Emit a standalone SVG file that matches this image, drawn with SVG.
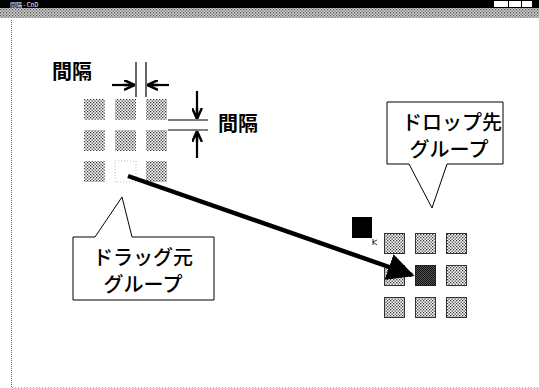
<svg xmlns="http://www.w3.org/2000/svg" width="539" height="388" viewBox="0 0 539 388">
<defs>
<pattern id="dots" width="3" height="3" patternUnits="userSpaceOnUse">
<rect width="3" height="3" fill="#fff"/>
<rect x="0" y="0" width="1.3" height="1.3" fill="#333"/>
<rect x="1.5" y="1.5" width="1.3" height="1.3" fill="#333"/>
</pattern>
<pattern id="dense" width="2" height="2" patternUnits="userSpaceOnUse">
<rect width="2" height="2" fill="#555"/>
<rect x="0" y="0" width="1" height="1" fill="#111"/>
<rect x="1" y="1" width="1" height="1" fill="#111"/>
</pattern>
<pattern id="menu" width="3" height="3" patternUnits="userSpaceOnUse">
<rect width="3" height="3" fill="#ccc"/>
<rect x="0" y="0" width="1.2" height="1.2" fill="#555"/>
<rect x="1.5" y="1.5" width="1.2" height="1.2" fill="#555"/>
</pattern>
<marker id="ah" viewBox="0 0 10 10" refX="10" refY="5" markerWidth="11" markerHeight="11" markerUnits="userSpaceOnUse" orient="auto">
<path d="M0,0.5 L10,5 L0,9.5 M10,5 L0,5" fill="none" stroke="#000" stroke-width="2.2"/>
</marker>
<marker id="big" viewBox="0 0 10 10" refX="9" refY="5" markerWidth="6" markerHeight="6" orient="auto">
<path d="M0,0 L10,5 L0,10 Z" fill="#000"/>
</marker>
</defs>
<style>
.lbl{font-family:"Noto Sans CJK JP","Noto Sans",sans-serif;font-size:20px;font-weight:500;fill:#000}
.b{font-weight:bold}
.src{fill:url(#dots)}
.dst{fill:url(#dots);stroke:#333;stroke-width:1}
.thin{stroke:#000;stroke-width:1.2;fill:none}
.arr{stroke:#000;stroke-width:2.2;fill:none;marker-end:url(#ah)}
.call{fill:#fff;stroke:#000;stroke-width:1}
</style>
<rect width="539" height="388" fill="#fff"/>
<g id="window">
<rect x="0" y="0" width="539" height="8" fill="#000"/>
<rect x="0" y="8" width="539" height="10" fill="url(#menu)"/>
<text x="10" y="6.5" font-family="Noto Sans CJK JP,sans-serif" font-size="6" fill="#fff">間隔 - CnD</text>
<rect x="494" y="1" width="14" height="6" fill="#fff"/>
<rect x="509" y="1" width="12" height="6" fill="#fff"/>
<rect x="522" y="1" width="10" height="6" fill="#fff"/>
<line x1="11.5" y1="20" x2="11.5" y2="387" stroke="#666" stroke-width="1" stroke-dasharray="1,1"/>
<line x1="12" y1="387.5" x2="539" y2="387.5" stroke="#aaa" stroke-width="1" stroke-dasharray="1,2"/>
</g>
<g id="source-group">
<rect class="src" x="84" y="99" width="21" height="21"/>
<rect class="src" x="115" y="99" width="21" height="21"/>
<rect class="src" x="146" y="99" width="21" height="21"/>
<rect class="src" x="84" y="130" width="21" height="21"/>
<rect class="src" x="115" y="130" width="21" height="21"/>
<rect class="src" x="146" y="130" width="21" height="21"/>
<rect class="src" x="84" y="161" width="21" height="21"/>
<rect x="115" y="161" width="21" height="21" fill="none" stroke="#aaa" stroke-width="0.8" stroke-dasharray="1,2"/>
<rect class="src" x="146" y="161" width="21" height="21"/>
</g>
<g id="gap-labels">
<text class="lbl b" x="52" y="79">間隔</text>
<text class="lbl b" x="218" y="131">間隔</text>
</g>
<g id="target-group">
<rect class="dst" x="384.5" y="233.5" width="20" height="20"/>
<rect class="dst" x="415.5" y="233.5" width="20" height="20"/>
<rect class="dst" x="446.5" y="233.5" width="20" height="20"/>
<rect class="dst" x="384.5" y="265.5" width="20" height="20"/>
<rect x="415.5" y="265.5" width="20" height="20" fill="url(#dense)" stroke="#222"/>
<rect class="dst" x="446.5" y="265.5" width="20" height="20"/>
<rect class="dst" x="384.5" y="297.5" width="20" height="20"/>
<rect class="dst" x="415.5" y="297.5" width="20" height="20"/>
<rect class="dst" x="446.5" y="297.5" width="20" height="20"/>
</g>
<g id="drag-image">
<rect x="352" y="217" width="20" height="21" fill="#000"/>
<path d="M373,239 L373,245 M373,242 L377,240 M373,242 L377,245" stroke="#000" stroke-width="0.8" fill="none"/>
</g>
<g id="callout-drop">
<path class="call" d="M387,102 H503 V164 H447 L432,208 L409,164 H387 Z"/>
<text class="lbl" x="452" y="130" text-anchor="middle">ドロップ先</text>
<text class="lbl" x="449" y="157" text-anchor="middle">グループ</text>
</g>
<g id="callout-drag">
<path class="call" d="M73,237 H95 L122,197 L132,237 H214 V300 H73 Z"/>
<text class="lbl" x="143" y="265" text-anchor="middle">ドラッグ元</text>
<text class="lbl" x="143" y="292" text-anchor="middle">グループ</text>
</g>
<g id="connectors">
<line class="thin" x1="136" y1="62" x2="136" y2="97"/>
<line class="thin" x1="146" y1="62" x2="146" y2="97"/>
<line class="arr" x1="112" y1="85" x2="135" y2="85"/>
<line class="arr" x1="169" y1="85" x2="147" y2="85"/>
<line class="thin" x1="168" y1="120" x2="208" y2="120"/>
<line class="thin" x1="168" y1="130" x2="208" y2="130"/>
<line class="arr" x1="197" y1="91" x2="197" y2="119"/>
<line class="arr" x1="197" y1="158" x2="197" y2="131"/>
<line x1="128" y1="176" x2="412" y2="275" stroke="#000" stroke-width="4.5" marker-end="url(#big)"/>
</g>
</svg>
